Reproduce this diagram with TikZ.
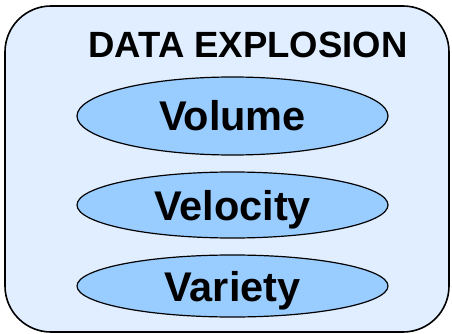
\documentclass[tikz,border=0pt]{standalone}
\usepackage{fontspec}
\setmainfont{Liberation Sans}
\usetikzlibrary{shapes.geometric}
\definecolor{panelblue}{HTML}{E0EEFF}
\definecolor{vblue}{HTML}{99CCFF}
\tikzset{
  vnode/.style={ellipse, draw, line width=1.2pt, fill=vblue, inner sep=0pt,
    minimum width=311pt, text height=30pt, text depth=0pt,
    font=\fontsize{41.5}{45}\selectfont\bfseries}
}
\begin{document}
\begin{tikzpicture}[x=1pt,y=-1pt]
    \useasboundingbox (0,0) rectangle (452,334);
    \draw[line width=1.6pt, fill=panelblue, rounded corners=46pt] (5,6) rectangle (449,332);

    \node[font=\fontsize{36.5}{40}\selectfont\bfseries] (title) at (248,45) {DATA EXPLOSION};

    \node[vnode, minimum height=78pt] (vol) at (232.5,116) {Volume};
    \node[vnode, minimum height=66pt] (vel) at (232.5,205) {Velocity};
    \node[vnode, minimum height=62pt] (var) at (232.5,286) {Variety};
\end{tikzpicture}
\end{document}
